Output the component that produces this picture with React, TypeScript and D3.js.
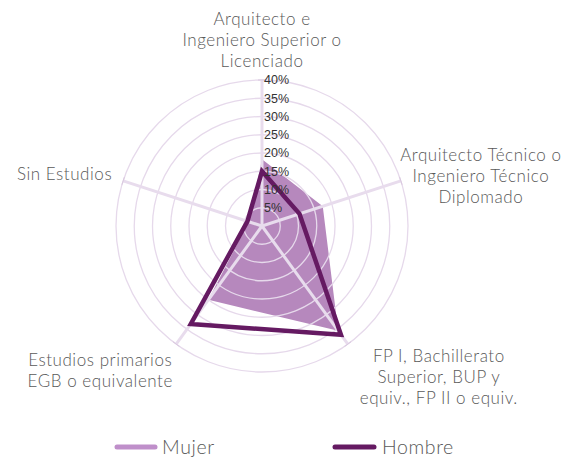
import React from 'react';
import * as d3 from 'd3';

// categories (clockwise from the top), each split into the lines shown on the chart
const categories = [
  'Arquitecto e Ingeniero Superior o Licenciado',
  'Arquitecto Técnico o Ingeniero Técnico Diplomado',
  'FP I, Bachillerato Superior, BUP y equiv., FP II o equiv.',
  'Estudios primarios EGB o equivalente',
  'Sin Estudios',
];
const categoryLines = [
  ['Arquitecto e', 'Ingeniero Superior o', 'Licenciado'],
  ['Arquitecto Técnico o', 'Ingeniero Técnico', 'Diplomado'],
  ['FP I, Bachillerato', 'Superior, BUP y', 'equiv., FP II o equiv.'],
  ['Estudios primarios', 'EGB o equivalente'],
  ['Sin Estudios'],
];

// share of each group, in %
const mujer = [18.3, 17.5, 35.5, 25, 3.8];
const hombre = [15, 10.8, 36.8, 33.2, 4.2];

const ticks = [5, 10, 15, 20, 25, 30, 35, 40];

const W = 567;
const H = 458;
const cx = 262;
const cy = 226;
const R = 146;

// label placement relative to the end of each axis
const labelOffsets: [number, number, string][] = [
  [0, -55, 'middle'],
  [80, -20, 'middle'],
  [91, 18, 'middle'],
  [-76, 22, 'middle'],
  [-11, -1, 'end'],
];

export default function App() {
  const r = d3.scaleLinear().domain([0, 40]).range([0, R]);
  const angle = d3
    .scaleLinear()
    .domain([0, categories.length])
    .range([0, 2 * Math.PI]);

  const radar = d3
    .lineRadial<number>()
    .angle((_, i) => angle(i))
    .radius((v) => r(v))
    .curve(d3.curveLinearClosed);

  const point = (i: number, rad: number) => [
    Math.sin(angle(i)) * rad,
    -Math.cos(angle(i)) * rad,
  ];

  const gridColor = '#e6d9eb';
  const labelFont = 'Lato, sans-serif';

  return (
    <svg
      width={W}
      height={H}
      style={{ position: 'absolute', left: 0, top: 0, background: '#fff' }}
    >
      <g transform={`translate(${cx},${cy})`}>
        {/* Mujer area */}
        <path d={radar(mujer) || ''} fill="#b688bd" stroke="none" />

        {/* rings */}
        {ticks.map((t) => (
          <circle
            key={t}
            r={r(t)}
            fill="none"
            stroke={gridColor}
            strokeWidth={1.3}
          />
        ))}

        {/* spokes with end ticks */}
        {categories.map((c, i) => {
          const [x, y] = point(i, R);
          const a = angle(i);
          const tx = Math.cos(a) * 4;
          const ty = Math.sin(a) * 4;
          return (
            <g key={c}>
              <line x1={0} y1={0} x2={x} y2={y} stroke="#e8dced" strokeWidth={3} />
              <line
                x1={x - tx}
                y1={y - ty}
                x2={x + tx}
                y2={y + ty}
                stroke="#d9c8df"
                strokeWidth={1}
              />
            </g>
          );
        })}

        {/* Hombre line */}
        <path
          d={radar(hombre) || ''}
          fill="none"
          stroke="#651a62"
          strokeWidth={4.5}
          strokeLinejoin="miter"
        />

        {/* value ticks */}
        {ticks.map((t) => (
          <text
            key={t}
            x={2}
            y={-r(t)}
            dy="0.35em"
            fontFamily="'Liberation Sans', Arial, sans-serif"
            fontSize={12.5}
            fill="#333"
          >
            {t}%
          </text>
        ))}

        {/* category labels */}
        {categoryLines.map((lines, i) => {
          const [x, y] = point(i, R);
          const [dx, dy, anchor] = labelOffsets[i];
          return (
            <text
              key={i}
              x={x + dx}
              y={y + dy}
              textAnchor={anchor}
              fontFamily={labelFont}
              fontWeight={300}
              fontSize={17}
              letterSpacing={0.55}
              fill="#595959"
            >
              {lines.map((l, j) => (
                <tspan key={j} x={x + dx} dy={j === 0 ? 0 : 21}>
                  {l}
                </tspan>
              ))}
            </text>
          );
        })}
      </g>

      {/* legend */}
      <g fontFamily={labelFont} fontWeight={300} fontSize={19.5} letterSpacing={0.6} fill="#595959">
        <line x1={117} x2={155} y1={447} y2={447} stroke="#bf8fca" strokeWidth={5} strokeLinecap="round" />
        <text x={162} y={454}>Mujer</text>
        <line x1={335} x2={374} y1={447} y2={447} stroke="#651a62" strokeWidth={5} strokeLinecap="round" />
        <text x={382} y={454}>Hombre</text>
      </g>
    </svg>
  );
}
